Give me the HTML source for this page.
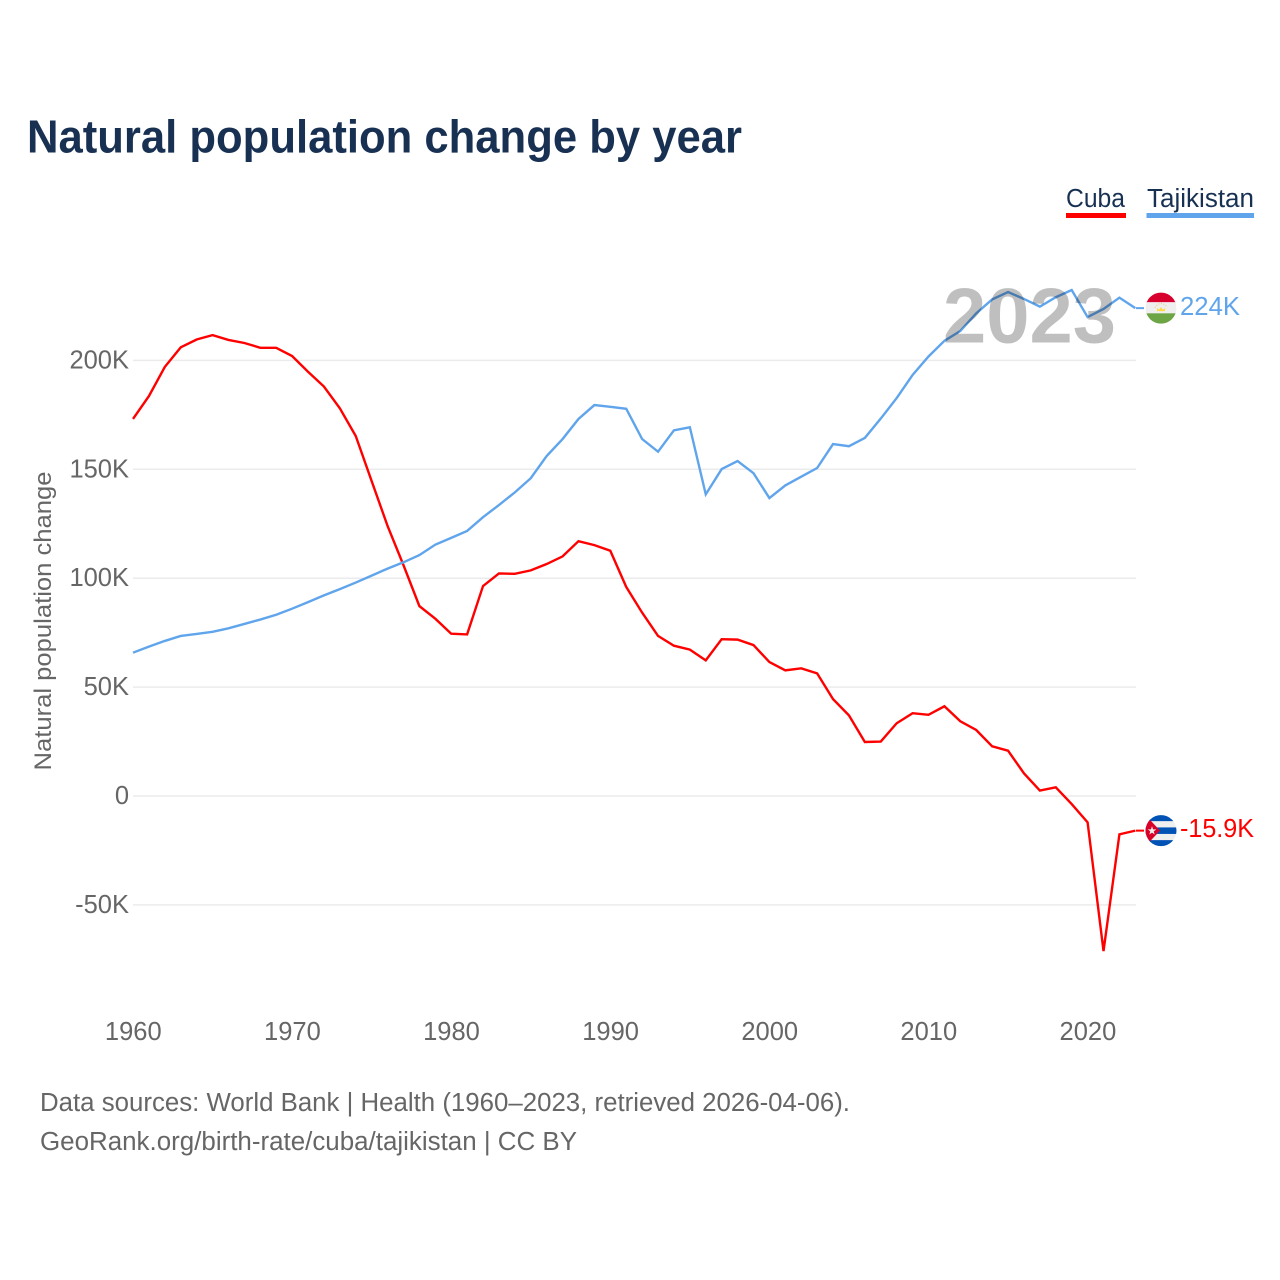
<!DOCTYPE html>
<html lang="en">
<head>
<meta charset="utf-8">
<title>Natural population change by year</title>
<style>
html,body{margin:0;padding:0;background:#fff;width:1280px;height:1280px;overflow:hidden}
svg{display:block}
text{font-family:"Liberation Sans",sans-serif}
</style>
</head>
<body>
<svg id="chart" width="1280" height="1280" viewBox="0 0 1280 1280">
  <rect width="1280" height="1280" fill="#fff"/>
  <text x="27" y="152.500" font-size="46" font-weight="700" fill="#183153" textLength="715" lengthAdjust="spacingAndGlyphs">Natural population change by year</text>

  <g>
    <text x="1066" y="207" font-size="25.5" fill="#183153" textLength="59" lengthAdjust="spacingAndGlyphs">Cuba</text>
    <rect x="1066" y="213" width="60" height="5" fill="#ff0000"/>
  </g>
  <g>
    <text x="1147" y="207" font-size="25.5" fill="#183153" textLength="107" lengthAdjust="spacingAndGlyphs">Tajikistan</text>
    <rect x="1146.500" y="213" width="107.500" height="5" fill="#60a5ec"/>
  </g>

  <g id="grid"></g>
  <g id="yticks"></g>
  <g id="xticks"></g>
  <text transform="translate(51,621) rotate(-90)" text-anchor="middle" font-size="24.5" fill="#666" textLength="299" lengthAdjust="spacingAndGlyphs">Natural population change</text>

  <g id="series"></g>

  <text x="943" y="342.500" font-size="78" font-weight="700" fill="#000" fill-opacity="0.25" textLength="173" lengthAdjust="spacingAndGlyphs">2023</text>

  <defs>
    <clipPath id="clip-flag"><circle cx="0" cy="0" r="15.5"/></clipPath>
  </defs>

  <g id="flag-tj" clip-path="url(#clip-flag)">
    <rect x="-16" y="-16" width="32" height="10.500" fill="#d8002c"/>
    <rect x="-16" y="-6" width="32" height="12" fill="#efefef"/>
    <rect x="-16" y="5.200" width="32" height="11" fill="#6da544"/>
    <path d="M-4 3 L-4 0 L-2 1.500 L0 -1 L2 1.500 L4 0 L4 3 Z" fill="#ffda44"/>
    <path d="M-6 -0.500 A6.500 6.500 0 0 1 6 -0.500" fill="none" stroke="#e8c860" stroke-width="1" stroke-dasharray="1 1.500"/>
  </g>
  <g id="flag-cu" clip-path="url(#clip-flag)">
    <rect x="-16" y="-16" width="32" height="32" fill="#efefef"/>
    <rect x="-16" y="-16" width="32" height="6.500" fill="#0052b4"/>
    <rect x="-16" y="-3.200" width="32" height="6.500" fill="#0052b4"/>
    <rect x="-16" y="9.500" width="32" height="6.500" fill="#0052b4"/>
    <path d="M-16 -16 L-1 0 L-16 16 Z" fill="#d80027"/>
    <path d="M-9 -4.500 L-7.900 -1.300 L-4.700 -1.300 L-7.300 0.700 L-6.300 3.900 L-9 2 L-11.700 3.900 L-10.700 0.700 L-13.300 -1.300 L-10.100 -1.300 Z" fill="#efefef"/>
  </g>

  <text id="value-tj" x="1180" font-size="25.5" fill="#60a5ec" textLength="60" lengthAdjust="spacingAndGlyphs"></text>
  <text id="value-cu" x="1180" font-size="25.5" fill="#ff0000" textLength="74" lengthAdjust="spacingAndGlyphs"></text>

  <text x="40" y="1111" font-size="25.5" fill="#666" textLength="810" lengthAdjust="spacingAndGlyphs">Data sources: World Bank | Health (1960–2023, retrieved 2026-04-06).</text>
  <text x="40" y="1150" font-size="25.5" fill="#666" textLength="537" lengthAdjust="spacingAndGlyphs">GeoRank.org/birth-rate/cuba/tajikistan | CC BY</text>
</svg>
<script>
const startYear = 1960;
const cubaValues = [173.1,183.6,197,206,209.6,211.6,209.4,208,205.8,205.8,202,194.8,188,178,165.3,144.6,124,106,87.2,81.4,74.5,74.2,96.4,102.2,102,103.6,106.5,110,117,115.2,112.6,96,84.2,73.5,69,67.2,62.3,72,71.8,69.3,61.5,57.7,58.6,56.3,44.5,37,24.8,25,33.4,38,37.3,41.2,34.3,30.3,22.8,20.8,10.4,2.5,4,-3.7,-12.1,-71.2,-17.6,-15.9];
const tajikistanValues = [65.8,68.6,71.2,73.5,74.4,75.4,77,79,81,83.2,86,89,92.1,95,98,101.2,104.4,107.3,110.6,115.4,118.5,121.7,128,133.6,139.4,145.9,156.1,163.9,173.1,179.5,178.7,177.8,163.9,158.1,167.9,169.3,138.5,150.1,153.8,148.2,136.8,142.6,146.6,150.6,161.6,160.6,164.4,173.3,182.7,193.3,201.8,209,213.5,221.6,228,231.4,228.2,224.7,229,232.3,219.9,223.6,228.8,224];
const yTickValues = [200,150,100,50,0,-50];
const yTickLabels = ["200K","150K","100K","50K","0","-50K"];
const xTickYears = [1960,1970,1980,1990,2000,2010,2020];
const cubaValueLabel = "-15.9K";
const tajikistanValueLabel = "224K";

const NS = "http://www.w3.org/2000/svg";
const xLeft = 133, xPerYear = 15.91, xRight = 1136;
const yZero = 796, yPerK = 2.178;
const xScale = function (year) { return xLeft + (year - startYear) * xPerYear; };
const yScale = function (v) { return yZero - v * yPerK; };

function make(tag, parent) {
  const el = document.createElementNS(NS, tag);
  parent.appendChild(el);
  return el;
}

const gridGroup = document.getElementById("grid");
const yGroup = document.getElementById("yticks");
const xGroup = document.getElementById("xticks");
const seriesGroup = document.getElementById("series");

yTickValues.forEach(function (v, i) {
  const line = make("line", gridGroup);
  
  
  line.setAttribute("x1", xLeft);
  line.setAttribute("x2", xRight);
  line.setAttribute("y1", yScale(v));
  line.setAttribute("y2", yScale(v));
  line.setAttribute("stroke", "#ebebeb");
  line.setAttribute("stroke-width", "1.500");

  const t = make("text", yGroup);
  
  
  t.setAttribute("x", 129);
  t.setAttribute("y", yScale(v) + 8);
  t.setAttribute("text-anchor", "end");
  t.setAttribute("font-size", "25.5");
  t.setAttribute("fill", "#666");
  t.textContent = yTickLabels[i];
});

xTickYears.forEach(function (year) {
  const t = make("text", xGroup);
  
  
  t.setAttribute("x", xScale(year) + 0.3);
  t.setAttribute("y", 1040);
  t.setAttribute("text-anchor", "middle");
  t.setAttribute("font-size", "25.5");
  t.setAttribute("fill", "#666");
  t.textContent = String(year);
});

function pathFor(values) {
  return values.map(function (v, i) {
    return (i ? "L" : "M") + xScale(startYear + i).toFixed(2) + " " + yScale(v).toFixed(2);
  }).join(" ");
}

const cubaLine = make("path", seriesGroup);


cubaLine.setAttribute("d", pathFor(cubaValues));
cubaLine.setAttribute("fill", "none");
cubaLine.setAttribute("stroke", "#ff0000");
cubaLine.setAttribute("stroke-width", "2.400");
cubaLine.setAttribute("stroke-linejoin", "miter");

const tajikLine = make("path", seriesGroup);


tajikLine.setAttribute("d", pathFor(tajikistanValues));
tajikLine.setAttribute("fill", "none");
tajikLine.setAttribute("stroke", "#60a5ec");
tajikLine.setAttribute("stroke-width", "2.400");
tajikLine.setAttribute("stroke-linejoin", "miter");

const cubaLast = yScale(cubaValues[cubaValues.length - 1]);
const tajikLast = yScale(tajikistanValues[tajikistanValues.length - 1]);

const cubaDash = make("line", seriesGroup);


cubaDash.setAttribute("x1", xRight);
cubaDash.setAttribute("x2", xRight + 8);
cubaDash.setAttribute("y1", cubaLast);
cubaDash.setAttribute("y2", cubaLast);
cubaDash.setAttribute("stroke", "#ff0000");
cubaDash.setAttribute("stroke-width", "2");

const tajikDash = make("line", seriesGroup);


tajikDash.setAttribute("x1", xRight);
tajikDash.setAttribute("x2", xRight + 8);
tajikDash.setAttribute("y1", tajikLast);
tajikDash.setAttribute("y2", tajikLast);
tajikDash.setAttribute("stroke", "#60a5ec");
tajikDash.setAttribute("stroke-width", "2");

document.getElementById("flag-tj").setAttribute("transform", "translate(1161," + tajikLast + ")");
document.getElementById("flag-cu").setAttribute("transform", "translate(1161," + cubaLast + ")");

const valueTj = document.getElementById("value-tj");
valueTj.setAttribute("y", tajikLast + 7);
valueTj.textContent = tajikistanValueLabel;

const valueCu = document.getElementById("value-cu");
valueCu.setAttribute("y", cubaLast + 6.5);
valueCu.textContent = cubaValueLabel;
</script>
</body>
</html>
